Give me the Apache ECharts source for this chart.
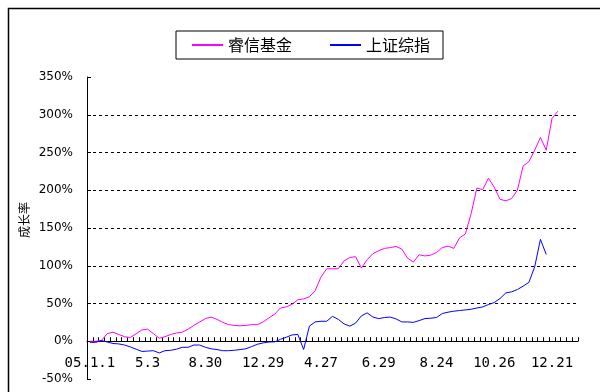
<!DOCTYPE html>
<html>
<head>
<meta charset="utf-8">
<script src="https://cdn.jsdelivr.net/npm/echarts@6/dist/echarts.min.js"></script>
<style>html,body{margin:0;padding:0;background:#fff}#c{width:600px;height:392px}</style>
</head>
<body>
<div id="c"></div>
<script>
// Tick labels shown on the category axis (one every 10 categories)
const tickLabels = ['05.1.1','5.3','8.30','12.29','4.27','6.29','8.24','10.26','12.21'];
const categoryCount = 85;
const labelEvery = 10;

// 睿信基金 growth rate (%)
const fundValues = [0,0,1,10,12,9,6,5,10,15,16,10,4,6,9,11,12,16,21,25.5,
  30,32,29,25,22,21,20.5,21,22,22,25.6,31,36,44,45.5,49,55,56,59,67,
  85,96,96,96,106.5,111,112,97,108,116,120,123,124,125.6,122,110,105,114.5,113,114,
  117.6,124,126,123,137,142,169,203,200.7,216,204,188,186,189,200,232,238,253,270,253,
  295,304.6];

// 上证综指 growth rate (%)
const indexValues = [-1.5,-1.5,1,-1,-3,-3.5,-5,-7.5,-10.5,-13.5,-13,-12.5,-15.5,-12.5,-12,-10.5,-8,-8,-5,-5,
  -8,-10,-11,-12.5,-12.5,-12,-11,-10,-7,-4,-2.2,-1,-0.8,2.6,5.3,8.4,9,-11,20,25.6,
  26.5,26.5,33,29,23,20,24,33.6,37.6,32,30,31.4,32,29.6,25.6,25.6,25,27.4,30,30.5,
  31.4,36.7,38.5,39.8,40.7,41.5,42.4,44,45.5,48.6,51.3,56.6,64,65.4,68.5,73,78,98.5,135,115];

// one category per sample; every 10th carries a tick label
const categories = [];
for (let i = 0; i < categoryCount; i++) categories.push('c' + i);

const yMin = -50, yMax = 350;
const gridTop = 77, gridBottom = 13, chartH = 392;
const tickLen = 4;
// offset that places the category axis on the 0% line
const zeroOffset = -((0 - yMin) / (yMax - yMin)) * (chartH - gridTop - gridBottom);

const chart = echarts.init(document.getElementById('c'), null, {renderer: 'canvas'});
chart.setOption({
  animation: false,
  backgroundColor: '#fff',
  graphic: [
    {type: 'rect', shape: {x: 8.5, y: 8.5, width: 620, height: 420}, style: {fill: 'none', stroke: '#000', lineWidth: 1.5}, silent: true},
    {type: 'text', x: 24, y: 220, rotation: Math.PI / 2,
      style: {text: '成长率', font: '12px "Noto Sans CJK SC"', fill: '#000', align: 'center', verticalAlign: 'middle'}}
  ],
  legend: {
    left: 176, top: 31,
    padding: [6, 13, 6, 16],
    borderColor: '#000', borderWidth: 1, borderRadius: 0,
    itemGap: 38, itemWidth: 31, itemHeight: 2,
    icon: 'rect',
    textStyle: {fontSize: 16, fontFamily: '"Noto Sans CJK SC"', color: '#000'},
    data: ['睿信基金', '上证综指']
  },
  grid: {left: 87, right: 22, top: gridTop, bottom: gridBottom, containLabel: false, outerBoundsMode: 'none'},
  xAxis: [{
    type: 'category',
    data: categories,
    boundaryGap: true,
    position: 'bottom',
    offset: zeroOffset,
    axisLine: {show: true, onZero: false, lineStyle: {color: '#000', width: 1}},
    axisTick: {show: false},
    axisLabel: {
      interval: labelEvery - 1, margin: 15, color: '#000', fontSize: 14, fontFamily: '"DejaVu Sans Mono"',
      formatter: function (v, idx) { return idx % labelEvery === 0 ? (tickLabels[idx / labelEvery] || '') : ''; }
    },
    splitLine: {show: false}
  }, {
    // boundary ticks between the samples, rising from the 0% line
    type: 'value',
    min: 0, max: categoryCount, interval: 1,
    position: 'bottom',
    offset: zeroOffset - tickLen,
    axisLine: {show: false, onZero: false},
    axisTick: {show: true, inside: false, length: tickLen, lineStyle: {color: '#000', width: 1}},
    axisLabel: {show: false},
    splitLine: {show: false}
  }],
  yAxis: {
    type: 'value',
    min: yMin, max: yMax, interval: 50,
    axisLine: {show: true, onZero: false, lineStyle: {color: '#000', width: 1}},
    axisTick: {show: true, inside: true, length: 4, lineStyle: {color: '#000'}},
    axisLabel: {formatter: '{value}%', color: '#000', fontSize: 12, fontFamily: '"DejaVu Sans"', margin: 14},
    splitLine: {show: true, showMinLine: false, showMaxLine: false, lineStyle: {color: '#000', type: [3, 3], width: 1}}
  },
  series: [
    {name: '睿信基金', type: 'line', data: fundValues, symbol: 'none', showSymbol: false, xAxisIndex: 0,
      lineStyle: {color: '#FF00FF', width: 1}, itemStyle: {color: '#FF00FF'}},
    {name: '上证综指', type: 'line', data: indexValues, symbol: 'none', showSymbol: false, xAxisIndex: 0,
      lineStyle: {color: '#0000FF', width: 1}, itemStyle: {color: '#0000FF'}}
  ]
});
</script>
</body>
</html>
